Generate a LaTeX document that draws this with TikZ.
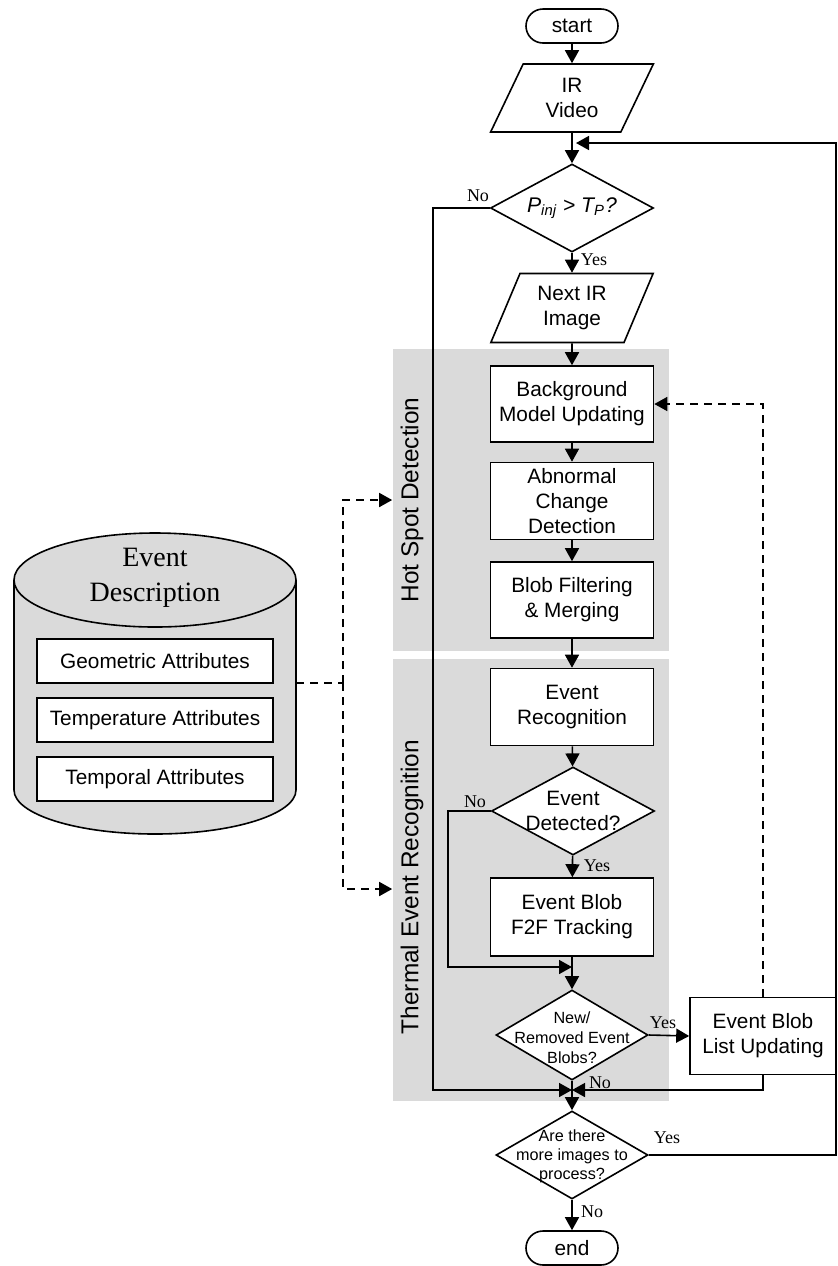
\documentclass[tikz,border=0pt]{standalone}
\usepackage{fontspec}
\setmainfont{Liberation Serif}
\setsansfont{Liberation Sans}
\usepackage{xcolor}
\usepackage{tikz}
\usetikzlibrary{shapes.geometric,arrows.meta}
\definecolor{regiongray}{RGB}{218,218,218}

\begin{document}
\begin{tikzpicture}[x=0.5pt,y=-0.5pt,line width=0.8pt,
    >={Triangle[length=6.5pt,width=7pt]},
    boxtext/.style={font=\sffamily\fontsize{10.4}{12.5}\selectfont,align=center},
    procbox/.style={boxtext,draw,fill=white,rectangle,minimum width=81.5pt,minimum height=38pt,inner sep=0pt},
    terminal/.style={boxtext,draw,fill=white,rectangle,rounded corners=8.5pt,minimum width=46pt,minimum height=17pt,inner sep=0pt},
    iobox/.style={boxtext,draw,fill=white,trapezium,trapezium left angle=66,trapezium right angle=114,trapezium stretches=true,minimum width=81.5pt,minimum height=34pt,inner sep=0pt},
    decision/.style={draw,fill=white,diamond,minimum width=#1,minimum height=44pt,inner sep=0pt},
    decision/.default=81.5pt,
    region/.style={fill=regiongray,draw=none,rectangle,minimum width=138pt,inner sep=0pt},
    attrbox/.style={boxtext,draw,fill=white,rectangle,minimum width=118pt,minimum height=22pt,inner sep=0pt},
    answer/.style={font=\fontsize{9}{10}\selectfont,inner sep=0pt},
    dashedarrow/.style={dashed,dash pattern=on 4pt off 3pt,->}]
        \useasboundingbox (0,0) rectangle (838,1266);

        % Shaded stages
        \node[region,minimum height=151pt] (hot) at (531,500) {};
        \node[region,minimum height=221pt] (thermal) at (531,880) {};
        \node[boxtext,font=\sffamily\fontsize{12.2}{14}\selectfont,rotate=90] (hotlabel) at (412,500) {Hot Spot Detection};
        \node[boxtext,font=\sffamily\fontsize{12.2}{14}\selectfont,rotate=90] (thermallabel) at (412,887) {Thermal Event Recognition};

        % Event description database
        \draw[fill=regiongray] (14,580) -- (14,790) arc[start angle=180,end angle=0,x radius=141,y radius=44] -- (296,580);
        \draw[fill=regiongray] (155,580) ellipse[x radius=141,y radius=47];
        \node[align=center,font=\fontsize{14}{17.5}\selectfont] (dbtitle) at (155,578) {Event\\Description};
        \node[attrbox] (geo) at (155,661) {Geometric Attributes};
        \node[attrbox] (temp) at (155,720) {Temperature Attributes};
        \node[attrbox] (tempo) at (155,779) {Temporal Attributes};
        \coordinate (dbout) at (296,683);
        \coordinate (dbsplit) at (343,683);

        % Main flow
        \node[terminal] (start) at (572,26) {start};
        \node[iobox] (video) at (572,98) {IR\\Video};
        \coordinate (loopin) at (572,143);
        \node[decision] (pinj) at (572,208) {};
        \node[boxtext,font=\sffamily\itshape\fontsize{10.6}{12.5}\selectfont] (pinjtext) at (572,208) {P\textsubscript{inj} > T\textsubscript{P}?};
        \node[iobox,minimum height=34.5pt] (image) at (572,308) {Next IR\\Image};
        \node[procbox] (bgmodel) at (572,404) {Background\\Model Updating};
        \node[procbox,minimum height=38.5pt] (abnormal) at (572,501) {Abnormal\\Change\\Detection};
        \node[procbox] (filter) at (572,600) {Blob Filtering\\\& Merging};
        \node[procbox,minimum height=38.5pt] (recog) at (572,707) {Event\\Recognition};
        \node[decision] (detected) at (573,811) {};
        \node[boxtext] (detectedtext) at (573,811) {Event\\Detected?};
        \node[procbox,minimum height=39pt] (tracking) at (572,917) {Event Blob\\F2F Tracking};
        \coordinate (skipin) at (572,967);
        \node[decision=76pt,minimum height=45pt] (changed) at (572,1035) {};
        \node[boxtext,font=\sffamily\fontsize{8.1}{10}\selectfont] (changedtext) at (572,1038) {New/\\Removed Event\\Blobs?};
        \node[procbox,minimum width=73pt,minimum height=38.5pt] (listupd) at (763,1036) {Event Blob\\List Updating};
        \coordinate (merge) at (572,1090);
        \node[decision=76pt] (more) at (572,1155) {};
        \node[boxtext,font=\sffamily\fontsize{8.1}{9.5}\selectfont] (moretext) at (572,1156) {Are there\\more images to\\process?};
        \node[terminal] (end) at (572,1248) {end};

        % Arrows
        \draw[->] (start) -- (video);
        \draw[->] (video) -- (pinj);
        \draw[->] (more.east) -- (836,1155) |- ([xshift=2]loopin);
        \draw[->] (pinj.west) -- (433,208) |- (merge);
        \draw[->] (pinj) -- (image);
        \draw[->] (image) -- (bgmodel);
        \draw[->] (bgmodel) -- (abnormal);
        \draw[->] (abnormal) -- (filter);
        \draw[->] (filter) -- (recog);
        \draw[->] (recog) -- (detected);
        \draw[->] (detected) -- (tracking);
        \draw[->] (detected.west) -- (448,811) |- (skipin);
        \draw[->] (tracking) -- (changed);
        \draw[->] (changed.east) -- (listupd.west);
        \draw[->] (listupd.south) |- (merge);
        \draw[->] (changed) -- (more);
        \draw[->] (more) -- (end);
        \draw[dashedarrow] (listupd.north) -- (763,404) -- (bgmodel.east);
        \draw[dashed,dash pattern=on 4pt off 3pt] (dbout) -- (dbsplit);
        \draw[dashedarrow] (dbsplit) |- (hot.west |- 0,500);
        \draw[dashedarrow] (dbsplit) |- (thermal.west |- 0,889);

        % Yes / No
        \node[answer] (no1) at (478,196) {No};
        \node[answer] (yes1) at (594,260) {Yes};
        \node[answer] (no2) at (475,802) {No};
        \node[answer] (yes2) at (597,866) {Yes};
        \node[answer] (yes3) at (663,1023) {Yes};
        \node[answer] (no3) at (600,1083) {No};
        \node[answer] (yes4) at (667,1138) {Yes};
        \node[answer] (no4) at (592,1212) {No};
    \end{tikzpicture}
\end{document}
